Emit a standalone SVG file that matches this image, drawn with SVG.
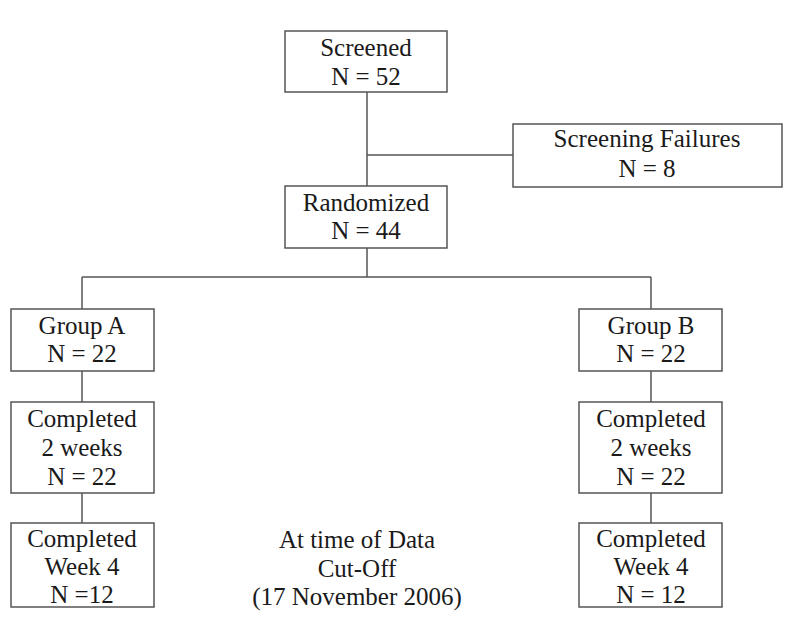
<svg xmlns="http://www.w3.org/2000/svg" width="809" height="623" viewBox="0 0 809 623">
<style>
.box{fill:#fff;stroke:#555;stroke-width:1.5}
.ln{fill:none;stroke:#555;stroke-width:1.5}
text{font-family:"Liberation Serif","Times New Roman",serif;font-size:25px;fill:#1a1a1a;text-anchor:middle}
</style>
<rect width="809" height="623" fill="#fff"/>
<g id="connectors">
<path class="ln" d="M367 92V186M367 155H513M367 248V277M82 277H651M82 277V309M651 277V309M82 371V402M82 493V523M651 371V402M651 493V523"/>
</g>
<g id="screened"><rect class="box" x="285" y="31" width="162" height="61"/><text x="366" y="56">Screened</text><text x="366" y="85">N = 52</text></g>
<g id="failures"><rect class="box" x="513" y="124" width="269" height="63"/><text x="647" y="147">Screening Failures</text><text x="647" y="177">N = 8</text></g>
<g id="randomized"><rect class="box" x="285" y="186" width="162" height="62"/><text x="366" y="211">Randomized</text><text x="366" y="239">N = 44</text></g>
<g id="groupA"><rect class="box" x="11" y="309" width="143" height="62"/><text x="82" y="334">Group A</text><text x="82" y="362">N = 22</text></g>
<g id="groupB"><rect class="box" x="579" y="309" width="143" height="62"/><text x="651" y="334">Group B</text><text x="651" y="362">N = 22</text></g>
<g id="a2w"><rect class="box" x="11" y="402" width="143" height="91"/><text x="82" y="427">Completed</text><text x="82" y="456">2 weeks</text><text x="82" y="485">N = 22</text></g>
<g id="b2w"><rect class="box" x="579" y="402" width="143" height="91"/><text x="651" y="427">Completed</text><text x="651" y="456">2 weeks</text><text x="651" y="485">N = 22</text></g>
<g id="a4w"><rect class="box" x="11" y="523" width="143" height="84"/><text x="82" y="547">Completed</text><text x="82" y="575">Week 4</text><text x="82" y="603">N =12</text></g>
<g id="b4w"><rect class="box" x="579" y="523" width="143" height="84"/><text x="651" y="547">Completed</text><text x="651" y="575">Week 4</text><text x="651" y="603">N = 12</text></g>
<g id="note"><text x="357" y="548">At time of Data</text><text x="357" y="577">Cut-Off</text><text x="357" y="605">(17 November 2006)</text></g>
</svg>
